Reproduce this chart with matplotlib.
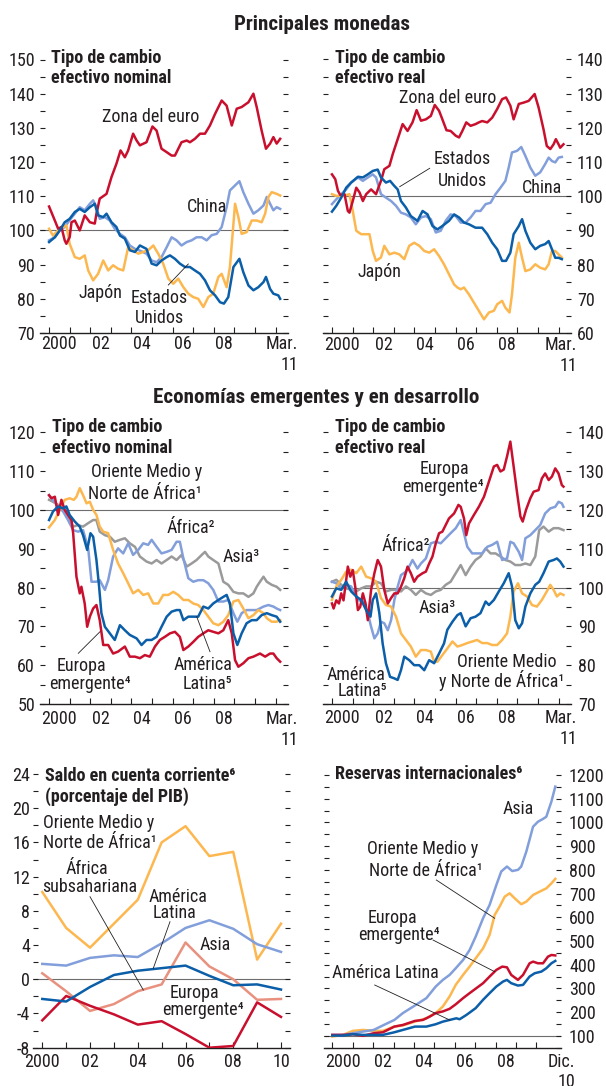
import matplotlib
matplotlib.use('Agg')
import matplotlib.pyplot as plt
from matplotlib.lines import Line2D
import matplotlib.transforms as mtransforms
from matplotlib import font_manager as fm

plt.rcParams['axes.unicode_minus'] = False

# pick the narrowest available sans family
_fonts = fm.fontManager.ttflist
_names = {f.name for f in _fonts}
if 'Liberation Sans Narrow' in _names:
    plt.rcParams['font.family'] = ['Liberation Sans Narrow', 'DejaVu Sans']
    SC = 1.0
elif 'Roboto Condensed' in _names:
    plt.rcParams['font.family'] = ['Roboto Condensed', 'DejaVu Sans']
    SC = 1.04
elif any(f.name == 'DejaVu Sans' and 'ondensed' in f.fname for f in _fonts):
    plt.rcParams['font.family'] = ['DejaVu Sans']
    plt.rcParams['font.stretch'] = 'condensed'
    SC = 0.88
else:
    plt.rcParams['font.family'] = ['Liberation Sans', 'DejaVu Sans']
    SC = 0.9

# ---------------- DATA ----------------
# Panel 1: nominal effective exchange rate, major currencies
EUR_NOM_T = [2000.00, 2000.28, 2000.44, 2000.60, 2000.76, 2000.84, 2001.00, 2001.09, 2001.25, 2001.49, 2001.73, 2001.98, 2002.22, 2002.30, 2002.46, 2002.79, 2003.03, 2003.27, 2003.47, 2003.68, 2003.84, 2004.08, 2004.25, 2004.41, 2004.73, 2005.02, 2005.22, 2005.46, 2005.71, 2005.95, 2006.11, 2006.43, 2006.68, 2006.84, 2007.08, 2007.33, 2007.57, 2007.81, 2008.06, 2008.38, 2008.62, 2008.87, 2009.11, 2009.35, 2009.68, 2009.92, 2010.08, 2010.32, 2010.53, 2010.73, 2010.89, 2011.05, 2011.22]
EUR_NOM_V = [107.0, 102.9, 100.5, 101.0, 97.1, 96.1, 98.0, 102.4, 102.9, 100.0, 104.4, 102.4, 102.0, 104.9, 109.3, 110.7, 115.6, 119.5, 123.4, 121.4, 123.4, 128.3, 126.3, 124.9, 125.8, 130.4, 129.2, 123.9, 122.9, 121.9, 121.9, 125.8, 126.3, 125.8, 126.8, 128.3, 128.3, 130.7, 134.1, 138.0, 136.5, 130.7, 135.6, 136.1, 137.5, 140.0, 136.1, 129.2, 123.9, 125.4, 127.3, 125.4, 126.8]
CHN_NOM_T = [2000.00, 2000.28, 2000.52, 2000.76, 2001.00, 2001.25, 2001.49, 2001.73, 2001.98, 2002.14, 2002.30, 2002.46, 2002.71, 2002.95, 2003.19, 2003.44, 2003.68, 2003.92, 2004.17, 2004.41, 2004.73, 2004.98, 2005.22, 2005.46, 2005.71, 2005.95, 2006.19, 2006.43, 2006.68, 2006.92, 2007.16, 2007.41, 2007.65, 2007.89, 2008.14, 2008.38, 2008.62, 2008.78, 2008.95, 2009.24, 2009.43, 2009.68, 2009.92, 2010.16, 2010.41, 2010.57, 2010.73, 2010.89, 2011.05, 2011.22]
CHN_NOM_V = [97.1, 98.0, 100.0, 101.0, 103.0, 104.9, 106.8, 105.9, 107.8, 108.8, 106.8, 103.4, 103.9, 102.9, 100.5, 99.0, 98.0, 95.6, 94.6, 94.1, 93.2, 91.2, 90.7, 92.2, 95.1, 98.0, 97.1, 95.6, 96.6, 97.1, 98.0, 98.0, 97.1, 98.6, 99.0, 101.0, 106.8, 111.7, 112.7, 114.4, 111.2, 107.8, 104.9, 105.9, 107.3, 109.8, 107.8, 105.9, 106.8, 106.3]
USA_NOM_T = [2000.00, 2000.28, 2000.52, 2000.76, 2001.00, 2001.25, 2001.49, 2001.73, 2001.98, 2002.22, 2002.38, 2002.63, 2002.79, 2003.03, 2003.27, 2003.44, 2003.68, 2003.92, 2004.17, 2004.41, 2004.73, 2004.98, 2005.22, 2005.46, 2005.71, 2005.87, 2006.11, 2006.35, 2006.60, 2006.84, 2007.08, 2007.33, 2007.57, 2007.81, 2008.06, 2008.30, 2008.49, 2008.70, 2008.95, 2009.24, 2009.43, 2009.68, 2009.92, 2010.16, 2010.41, 2010.53, 2010.73, 2010.89, 2011.13, 2011.22]
USA_NOM_V = [96.6, 98.0, 100.0, 102.4, 103.4, 105.4, 106.3, 105.4, 106.8, 107.8, 104.4, 103.9, 104.9, 102.4, 101.0, 98.5, 97.6, 94.2, 93.7, 95.6, 94.6, 90.3, 89.8, 91.2, 92.2, 92.7, 91.7, 90.3, 89.3, 89.3, 88.3, 87.3, 85.4, 82.5, 81.0, 79.0, 78.6, 80.5, 89.3, 91.7, 87.8, 83.9, 82.5, 83.4, 84.9, 86.4, 82.9, 81.5, 81.0, 80.0]
JPN_NOM_T = [2000.00, 2000.19, 2000.44, 2000.68, 2000.84, 2001.00, 2001.25, 2001.49, 2001.73, 2001.90, 2002.14, 2002.38, 2002.63, 2002.87, 2003.11, 2003.35, 2003.60, 2003.84, 2004.08, 2004.33, 2004.57, 2004.81, 2005.06, 2005.30, 2005.54, 2005.79, 2006.03, 2006.27, 2006.52, 2006.76, 2007.00, 2007.24, 2007.49, 2007.73, 2007.97, 2008.22, 2008.38, 2008.62, 2008.78, 2009.03, 2009.19, 2009.35, 2009.59, 2009.84, 2010.08, 2010.32, 2010.49, 2010.65, 2010.81, 2011.05, 2011.22]
JPN_NOM_V = [100.5, 98.5, 100.0, 101.0, 101.5, 96.1, 92.2, 91.7, 92.7, 88.3, 85.4, 87.3, 91.2, 88.3, 89.8, 88.8, 88.3, 95.1, 94.2, 93.2, 93.7, 94.2, 95.6, 93.2, 90.3, 85.9, 84.4, 85.9, 83.4, 81.5, 80.5, 80.0, 77.6, 80.5, 81.5, 86.4, 87.3, 83.4, 89.3, 107.8, 103.9, 99.0, 99.5, 102.9, 102.9, 102.4, 104.9, 109.8, 111.2, 110.7, 110.2]

# Panel 2: real effective exchange rate, major currencies
EUR_REAL_T = [2000.00, 2000.16, 2000.29, 2000.40, 2000.61, 2000.77, 2000.85, 2001.01, 2001.18, 2001.34, 2001.50, 2001.66, 2001.90, 2002.14, 2002.38, 2002.54, 2002.79, 2002.95, 2003.19, 2003.43, 2003.67, 2003.91, 2004.11, 2004.32, 2004.56, 2004.80, 2004.99, 2005.20, 2005.36, 2005.56, 2005.76, 2006.01, 2006.17, 2006.33, 2006.52, 2006.73, 2006.97, 2007.13, 2007.29, 2007.54, 2007.78, 2008.02, 2008.26, 2008.45, 2008.66, 2008.82, 2009.07, 2009.31, 2009.55, 2009.84, 2010.03, 2010.27, 2010.43, 2010.60, 2010.76, 2010.87, 2011.00, 2011.08, 2011.24]
EUR_REAL_V = [106.4, 105.0, 101.6, 100.4, 100.6, 95.7, 95.2, 98.6, 102.5, 101.1, 98.6, 100.6, 102.0, 100.6, 104.5, 107.9, 108.9, 112.3, 116.7, 121.1, 119.1, 121.6, 125.2, 122.1, 122.5, 123.5, 126.7, 125.0, 122.5, 119.3, 119.1, 117.7, 117.2, 119.1, 121.6, 120.6, 121.1, 121.6, 122.0, 121.6, 123.0, 125.5, 128.4, 128.9, 126.5, 122.5, 127.0, 127.4, 127.9, 129.9, 126.0, 119.6, 114.7, 113.8, 115.2, 116.7, 115.2, 114.2, 115.2]
CHN_REAL_T = [2000.00, 2000.21, 2000.45, 2000.69, 2000.93, 2001.26, 2001.50, 2001.74, 2001.98, 2002.14, 2002.38, 2002.62, 2002.87, 2003.11, 2003.35, 2003.59, 2003.83, 2004.07, 2004.32, 2004.56, 2004.80, 2005.04, 2005.28, 2005.52, 2005.76, 2006.01, 2006.25, 2006.49, 2006.73, 2006.97, 2007.21, 2007.46, 2007.70, 2007.94, 2008.18, 2008.42, 2008.58, 2008.74, 2008.99, 2009.19, 2009.39, 2009.63, 2009.87, 2010.11, 2010.35, 2010.52, 2010.68, 2010.84, 2011.00, 2011.16]
CHN_REAL_V = [97.7, 99.1, 100.6, 102.0, 104.0, 105.5, 104.5, 105.5, 106.4, 105.5, 100.6, 99.6, 98.6, 97.2, 95.2, 94.7, 93.8, 91.8, 93.8, 94.2, 93.3, 89.4, 89.9, 92.8, 94.7, 94.2, 92.3, 92.3, 93.8, 95.7, 95.7, 97.7, 98.1, 100.6, 102.5, 104.5, 108.4, 112.8, 113.3, 114.4, 111.8, 108.4, 106.0, 107.0, 109.4, 111.3, 110.3, 109.9, 111.3, 111.5]
USA_REAL_T = [2000.00, 2000.21, 2000.45, 2000.69, 2000.93, 2001.26, 2001.50, 2001.74, 2001.98, 2002.22, 2002.38, 2002.62, 2002.82, 2003.03, 2003.19, 2003.35, 2003.59, 2003.83, 2004.15, 2004.40, 2004.64, 2004.88, 2005.12, 2005.36, 2005.68, 2005.93, 2006.17, 2006.41, 2006.65, 2006.97, 2007.29, 2007.54, 2007.78, 2008.02, 2008.26, 2008.45, 2008.66, 2008.82, 2009.07, 2009.23, 2009.39, 2009.63, 2009.87, 2010.11, 2010.35, 2010.52, 2010.68, 2010.84, 2011.00, 2011.16]
USA_REAL_V = [95.5, 97.2, 99.6, 102.5, 104.0, 105.7, 105.5, 106.4, 107.4, 107.8, 105.5, 104.0, 104.5, 103.0, 102.0, 98.6, 96.7, 94.2, 92.8, 95.7, 94.7, 91.3, 90.3, 91.3, 92.8, 94.7, 93.8, 92.3, 91.8, 90.8, 90.8, 88.9, 86.4, 84.5, 81.1, 81.1, 83.5, 88.9, 91.3, 93.3, 89.9, 86.4, 84.5, 85.5, 86.0, 86.9, 84.5, 82.0, 82.0, 81.6]
JPN_REAL_T = [2000.00, 2000.21, 2000.53, 2000.85, 2001.01, 2001.18, 2001.42, 2001.66, 2001.82, 2001.98, 2002.14, 2002.38, 2002.54, 2002.79, 2003.03, 2003.27, 2003.51, 2003.75, 2003.99, 2004.24, 2004.48, 2004.72, 2004.96, 2005.20, 2005.44, 2005.68, 2005.93, 2006.09, 2006.25, 2006.41, 2006.65, 2006.89, 2007.13, 2007.38, 2007.62, 2007.86, 2008.02, 2008.26, 2008.42, 2008.62, 2008.74, 2008.90, 2009.07, 2009.23, 2009.39, 2009.63, 2009.87, 2010.11, 2010.35, 2010.52, 2010.68, 2010.84, 2011.00, 2011.16]
JPN_REAL_V = [100.6, 100.1, 100.1, 100.6, 95.7, 89.9, 88.9, 88.9, 88.9, 84.0, 81.1, 82.1, 85.5, 83.0, 83.5, 83.0, 81.6, 85.5, 86.4, 85.5, 84.0, 83.5, 84.5, 82.5, 80.1, 77.2, 74.2, 73.3, 72.8, 73.3, 71.3, 68.9, 66.5, 64.0, 66.0, 66.5, 68.4, 69.4, 67.4, 66.0, 71.3, 82.0, 86.4, 82.0, 78.1, 78.6, 80.1, 79.1, 78.6, 80.1, 84.0, 84.0, 83.0, 82.1]

# Panel 3: nominal effective exchange rate, emerging regions
MOA_NOM_T = [2000.00, 2000.28, 2000.52, 2000.76, 2001.00, 2001.20, 2001.33, 2001.49, 2001.65, 2001.82, 2001.98, 2002.14, 2002.30, 2002.46, 2002.63, 2002.87, 2003.11, 2003.35, 2003.60, 2003.84, 2004.08, 2004.33, 2004.57, 2004.81, 2005.06, 2005.30, 2005.54, 2005.79, 2006.03, 2006.27, 2006.52, 2006.76, 2007.00, 2007.24, 2007.49, 2007.73, 2007.97, 2008.22, 2008.46, 2008.70, 2008.95, 2009.19, 2009.43, 2009.68, 2009.92, 2010.16, 2010.41, 2010.57, 2010.81, 2011.05, 2011.22]
MOA_NOM_V = [95.5, 97.4, 100.0, 102.6, 103.0, 102.6, 103.4, 105.6, 103.8, 101.7, 102.1, 100.0, 98.7, 95.7, 94.4, 94.0, 89.7, 86.2, 83.7, 81.1, 78.5, 79.4, 78.1, 78.5, 75.9, 75.9, 78.1, 78.1, 78.9, 78.1, 76.8, 76.8, 75.9, 75.5, 74.2, 72.5, 70.8, 70.3, 71.2, 72.9, 76.4, 76.8, 74.6, 72.1, 72.9, 74.2, 73.4, 72.1, 71.2, 71.2, 71.6]
AFR_NOM_T = [2000.00, 2000.19, 2000.44, 2000.68, 2000.92, 2001.17, 2001.41, 2001.65, 2001.90, 2002.06, 2002.30, 2002.46, 2002.71, 2002.87, 2003.11, 2003.35, 2003.60, 2003.84, 2004.08, 2004.33, 2004.57, 2004.81, 2004.98, 2005.22, 2005.46, 2005.71, 2005.95, 2006.19, 2006.35, 2006.52, 2006.76, 2007.00, 2007.24, 2007.49, 2007.73, 2007.97, 2008.22, 2008.46, 2008.70, 2008.95, 2009.14, 2009.35, 2009.59, 2009.84, 2010.08, 2010.41, 2010.65, 2010.89, 2011.05, 2011.22]
AFR_NOM_V = [103.8, 102.6, 100.9, 99.6, 97.4, 94.8, 94.4, 94.8, 90.1, 81.5, 81.5, 81.9, 79.4, 81.9, 88.0, 90.1, 88.8, 91.4, 88.4, 89.7, 91.4, 91.0, 92.3, 90.5, 88.8, 89.2, 89.7, 91.8, 91.8, 87.5, 82.4, 81.5, 81.9, 81.9, 81.1, 79.4, 76.4, 76.4, 76.8, 73.4, 71.2, 73.4, 74.2, 74.2, 74.2, 75.1, 75.5, 75.1, 74.6, 74.2]
ASIA_NOM_T = [2000.00, 2000.19, 2000.44, 2000.68, 2000.92, 2001.17, 2001.41, 2001.65, 2001.90, 2002.14, 2002.30, 2002.46, 2002.71, 2002.95, 2003.19, 2003.44, 2003.68, 2003.92, 2004.17, 2004.41, 2004.73, 2004.98, 2005.22, 2005.46, 2005.71, 2005.95, 2006.19, 2006.43, 2006.68, 2006.92, 2007.16, 2007.41, 2007.57, 2007.73, 2007.97, 2008.22, 2008.46, 2008.70, 2008.95, 2009.19, 2009.43, 2009.68, 2009.92, 2010.08, 2010.24, 2010.41, 2010.57, 2010.81, 2011.05, 2011.22]
ASIA_NOM_V = [102.6, 102.1, 101.3, 100.0, 98.3, 95.7, 96.1, 95.7, 96.6, 97.4, 97.4, 94.4, 93.5, 93.1, 91.8, 92.3, 92.7, 91.4, 90.5, 88.0, 86.7, 86.2, 87.1, 86.2, 87.1, 88.0, 87.1, 88.4, 85.4, 86.2, 87.1, 88.4, 89.2, 88.0, 87.1, 86.2, 81.5, 80.7, 78.9, 78.5, 78.5, 77.6, 78.5, 80.2, 81.5, 82.8, 81.5, 80.7, 80.2, 79.4]
LAT_NOM_T = [2000.00, 2000.19, 2000.44, 2000.68, 2000.84, 2001.00, 2001.25, 2001.49, 2001.65, 2001.85, 2002.01, 2002.14, 2002.30, 2002.43, 2002.54, 2002.71, 2002.95, 2003.19, 2003.44, 2003.68, 2003.92, 2004.25, 2004.49, 2004.73, 2004.98, 2005.22, 2005.46, 2005.71, 2005.95, 2006.19, 2006.35, 2006.52, 2006.76, 2007.00, 2007.24, 2007.49, 2007.73, 2007.97, 2008.22, 2008.46, 2008.62, 2008.78, 2008.95, 2009.14, 2009.35, 2009.59, 2009.84, 2010.08, 2010.32, 2010.57, 2010.81, 2011.05, 2011.22]
LAT_NOM_V = [97.4, 99.6, 100.9, 100.4, 100.9, 98.7, 97.0, 95.7, 93.5, 89.7, 94.0, 93.1, 87.1, 80.2, 73.4, 69.9, 68.2, 66.5, 70.3, 69.0, 67.8, 66.9, 65.2, 66.5, 66.5, 67.3, 69.9, 72.5, 73.8, 74.2, 74.2, 71.6, 72.5, 72.5, 72.5, 75.1, 74.6, 75.9, 76.8, 77.6, 78.1, 75.9, 68.2, 65.2, 68.2, 70.8, 71.6, 71.6, 72.9, 73.4, 72.9, 72.5, 71.2]
EEM_NOM_T = [2000.00, 2000.11, 2000.28, 2000.44, 2000.60, 2000.76, 2000.92, 2001.09, 2001.17, 2001.33, 2001.49, 2001.57, 2001.73, 2001.85, 2001.98, 2002.14, 2002.30, 2002.46, 2002.63, 2002.87, 2003.11, 2003.35, 2003.68, 2003.92, 2004.17, 2004.41, 2004.65, 2004.89, 2005.14, 2005.38, 2005.62, 2005.87, 2006.11, 2006.35, 2006.52, 2006.76, 2007.00, 2007.24, 2007.49, 2007.73, 2007.97, 2008.22, 2008.46, 2008.70, 2008.87, 2009.03, 2009.19, 2009.43, 2009.68, 2009.92, 2010.24, 2010.49, 2010.73, 2010.89, 2011.05, 2011.22]
EEM_NOM_V = [103.8, 103.0, 103.4, 98.7, 102.6, 100.0, 98.7, 97.4, 94.0, 82.8, 78.5, 80.2, 75.9, 69.9, 72.5, 74.6, 75.5, 71.6, 65.2, 65.2, 63.0, 63.5, 64.8, 62.2, 62.2, 61.8, 62.6, 62.2, 64.8, 66.5, 67.3, 68.2, 68.6, 67.3, 63.9, 64.8, 66.0, 67.3, 68.2, 69.0, 68.6, 68.2, 69.0, 71.6, 68.2, 61.3, 59.6, 60.5, 61.8, 62.2, 63.0, 62.2, 63.0, 63.0, 61.8, 60.9]

# Panel 4: real effective exchange rate, emerging regions
EEM_REAL_T = [2000.00, 2000.08, 2000.21, 2000.34, 2000.45, 2000.56, 2000.69, 2000.77, 2000.89, 2001.01, 2001.13, 2001.26, 2001.37, 2001.50, 2001.63, 2001.74, 2001.90, 2002.06, 2002.22, 2002.38, 2002.54, 2002.71, 2002.87, 2003.03, 2003.19, 2003.35, 2003.51, 2003.67, 2003.83, 2003.99, 2004.15, 2004.40, 2004.56, 2004.72, 2004.88, 2005.04, 2005.20, 2005.36, 2005.52, 2005.68, 2005.93, 2006.14, 2006.25, 2006.41, 2006.52, 2006.65, 2006.89, 2007.13, 2007.38, 2007.54, 2007.70, 2007.86, 2008.02, 2008.18, 2008.34, 2008.50, 2008.66, 2008.82, 2008.99, 2009.15, 2009.26, 2009.42, 2009.63, 2009.79, 2010.03, 2010.19, 2010.35, 2010.52, 2010.68, 2010.84, 2011.00, 2011.16, 2011.24]
EEM_REAL_V = [95.9, 94.6, 96.7, 95.9, 98.5, 96.7, 101.9, 105.4, 102.8, 104.5, 100.2, 94.2, 95.0, 98.5, 95.9, 91.6, 99.4, 103.7, 107.1, 105.4, 99.4, 95.9, 97.3, 98.5, 98.5, 100.2, 102.4, 105.4, 103.7, 101.5, 102.8, 103.7, 104.1, 106.2, 108.0, 111.4, 114.0, 114.4, 116.1, 117.8, 119.1, 121.3, 120.8, 117.8, 113.5, 116.5, 118.7, 120.8, 123.4, 126.0, 128.6, 131.2, 131.6, 129.9, 130.4, 133.8, 137.6, 131.2, 124.3, 118.3, 117.0, 120.0, 123.0, 124.7, 125.1, 128.1, 129.4, 127.7, 128.6, 130.7, 129.4, 126.4, 126.0]
AFR_REAL_T = [2000.00, 2000.21, 2000.45, 2000.69, 2000.93, 2001.10, 2001.26, 2001.50, 2001.74, 2001.90, 2002.06, 2002.22, 2002.38, 2002.54, 2002.71, 2002.87, 2003.03, 2003.19, 2003.35, 2003.59, 2003.75, 2003.91, 2004.15, 2004.32, 2004.56, 2004.80, 2005.04, 2005.28, 2005.52, 2005.76, 2006.01, 2006.25, 2006.41, 2006.57, 2006.81, 2007.05, 2007.29, 2007.54, 2007.78, 2008.02, 2008.26, 2008.50, 2008.66, 2008.82, 2009.07, 2009.23, 2009.39, 2009.63, 2009.87, 2010.11, 2010.35, 2010.60, 2010.84, 2011.00, 2011.16, 2011.24]
AFR_REAL_V = [101.5, 101.1, 99.8, 100.7, 100.3, 98.5, 96.8, 96.4, 93.4, 89.9, 86.9, 88.2, 91.2, 90.8, 89.0, 91.6, 96.8, 100.2, 103.2, 104.1, 105.4, 107.1, 104.9, 106.2, 107.5, 111.4, 111.8, 111.4, 112.7, 114.0, 115.3, 117.4, 114.0, 110.5, 108.8, 108.8, 108.8, 110.5, 111.0, 111.8, 107.1, 107.5, 111.8, 111.4, 109.2, 107.1, 112.7, 113.5, 114.8, 116.1, 119.1, 120.4, 120.8, 122.1, 121.7, 120.8]
ASIA_REAL_T = [2000.00, 2000.21, 2000.45, 2000.69, 2000.93, 2001.18, 2001.42, 2001.66, 2001.90, 2002.14, 2002.38, 2002.62, 2002.87, 2003.11, 2003.35, 2003.59, 2003.83, 2004.07, 2004.32, 2004.56, 2004.80, 2005.04, 2005.28, 2005.52, 2005.76, 2006.01, 2006.25, 2006.49, 2006.73, 2006.97, 2007.21, 2007.46, 2007.70, 2007.94, 2008.18, 2008.42, 2008.66, 2008.90, 2009.15, 2009.39, 2009.63, 2009.87, 2010.06, 2010.27, 2010.52, 2010.76, 2011.00, 2011.24]
ASIA_REAL_V = [101.5, 102.0, 100.7, 99.8, 99.4, 99.0, 99.8, 100.3, 100.3, 101.5, 101.1, 99.0, 99.4, 99.4, 99.0, 100.3, 99.4, 98.1, 99.4, 98.5, 98.1, 99.0, 99.4, 100.7, 101.5, 103.7, 105.8, 103.2, 105.4, 107.1, 108.0, 110.1, 108.8, 108.8, 108.0, 107.1, 106.7, 105.8, 105.8, 106.2, 105.8, 108.0, 114.8, 115.7, 114.4, 115.3, 115.3, 114.8]
LAT_REAL_T = [2000.00, 2000.21, 2000.45, 2000.69, 2000.93, 2001.18, 2001.42, 2001.66, 2001.87, 2001.98, 2002.14, 2002.30, 2002.46, 2002.62, 2002.82, 2003.03, 2003.19, 2003.35, 2003.51, 2003.75, 2003.99, 2004.24, 2004.48, 2004.72, 2004.96, 2005.20, 2005.44, 2005.60, 2005.85, 2006.09, 2006.25, 2006.49, 2006.73, 2006.97, 2007.21, 2007.46, 2007.62, 2007.86, 2008.10, 2008.34, 2008.58, 2008.74, 2008.90, 2009.07, 2009.23, 2009.39, 2009.63, 2009.87, 2010.06, 2010.27, 2010.52, 2010.76, 2010.92, 2011.08, 2011.24]
LAT_REAL_V = [97.7, 99.8, 99.4, 101.5, 99.0, 97.7, 96.8, 94.2, 92.5, 96.8, 98.5, 93.4, 85.6, 80.5, 77.0, 76.6, 76.2, 78.7, 82.2, 81.3, 80.0, 80.0, 78.7, 81.3, 80.5, 83.0, 85.6, 89.1, 91.2, 92.9, 93.4, 90.0, 92.1, 92.5, 93.4, 96.4, 95.5, 96.8, 99.0, 101.1, 103.7, 100.3, 91.6, 89.5, 90.8, 95.1, 98.5, 100.7, 101.5, 103.7, 106.7, 107.1, 107.5, 106.7, 105.4]
MOA_REAL_T = [2000.00, 2000.21, 2000.45, 2000.69, 2000.93, 2001.18, 2001.42, 2001.66, 2001.90, 2002.14, 2002.38, 2002.62, 2002.87, 2003.11, 2003.35, 2003.59, 2003.83, 2004.07, 2004.32, 2004.56, 2004.80, 2004.96, 2005.12, 2005.36, 2005.60, 2005.85, 2006.09, 2006.33, 2006.57, 2006.81, 2007.05, 2007.29, 2007.54, 2007.78, 2008.02, 2008.26, 2008.50, 2008.66, 2008.82, 2009.03, 2009.23, 2009.47, 2009.71, 2009.95, 2010.19, 2010.43, 2010.60, 2010.76, 2010.92, 2011.08, 2011.24]
MOA_REAL_V = [96.8, 100.3, 102.0, 104.1, 104.6, 103.7, 105.4, 102.8, 102.4, 101.5, 97.3, 95.5, 95.1, 92.5, 88.2, 86.5, 84.8, 82.2, 83.9, 83.9, 83.5, 80.9, 80.9, 82.6, 84.3, 86.1, 84.8, 85.2, 85.7, 86.1, 86.5, 85.7, 85.7, 85.2, 85.2, 86.5, 88.2, 92.5, 99.0, 101.1, 98.5, 97.7, 95.5, 95.1, 96.8, 99.0, 100.7, 99.4, 97.7, 98.5, 98.1]

# Panel 5: current account balance (% of GDP), annual
CA_YEARS = [2000, 2001, 2002, 2003, 2004, 2005, 2006, 2007, 2008, 2009, 2010]
CA_MOA = [10.2, 6.0, 3.7, 6.5, 9.3, 16.0, 17.9, 14.4, 14.9, 2.3, 6.5]
CA_ASIA = [1.8, 1.6, 2.5, 2.8, 2.6, 4.2, 6.0, 6.9, 5.9, 4.1, 3.2]
CA_LAT = [-2.3, -2.6, -0.9, 0.5, 1.0, 1.3, 1.6, 0.4, -0.7, -0.6, -1.2]
CA_SSA = [0.7, -1.4, -3.7, -2.9, -1.4, -0.6, 4.3, 1.5, 0.0, -2.4, -2.3]
CA_EEM = [-4.8, -1.95, -3.1, -4.1, -5.3, -4.9, -6.4, -8.0, -7.8, -2.7, -4.4]

# Panel 6: international reserves (index)
RES_ASIA_T = [2000.00, 2000.52, 2001.01, 2001.50, 2002.03, 2002.48, 2003.04, 2003.46, 2004.05, 2004.61, 2005.07, 2005.42, 2005.75, 2006.05, 2006.41, 2006.73, 2007.03, 2007.39, 2007.71, 2008.04, 2008.28, 2008.56, 2008.82, 2009.10, 2009.26, 2009.51, 2009.84, 2010.08, 2010.33, 2010.49, 2010.74, 2010.93]
RES_ASIA_V = [104, 104, 111, 118, 125, 144, 167, 196, 228, 259, 308, 336, 357, 385, 420, 462, 519, 596, 652, 736, 793, 814, 795, 800, 814, 877, 982, 1003, 1015, 1024, 1088, 1151]
RES_MOA_T = [2000.00, 2000.52, 2001.01, 2001.50, 2002.03, 2002.48, 2003.04, 2003.46, 2004.05, 2004.61, 2005.07, 2005.42, 2005.75, 2006.05, 2006.41, 2006.73, 2007.03, 2007.39, 2007.71, 2007.96, 2008.20, 2008.45, 2008.69, 2008.94, 2009.26, 2009.51, 2009.84, 2010.16, 2010.49, 2010.74, 2010.93]
RES_MOA_V = [97, 104, 121, 125, 121, 121, 139, 144, 160, 174, 196, 224, 266, 315, 357, 392, 427, 469, 526, 610, 645, 687, 701, 680, 655, 666, 694, 708, 722, 743, 762]
RES_EEM_T = [2000.00, 2000.52, 2001.01, 2001.50, 2002.03, 2002.48, 2003.04, 2003.46, 2004.05, 2004.44, 2004.77, 2005.07, 2005.42, 2005.75, 2006.05, 2006.41, 2006.73, 2007.06, 2007.39, 2007.71, 2008.04, 2008.33, 2008.56, 2008.77, 2009.10, 2009.35, 2009.67, 2009.84, 2010.08, 2010.33, 2010.57, 2010.74, 2010.93]
RES_EEM_V = [104, 104, 107, 100, 111, 115, 139, 146, 163, 167, 181, 196, 203, 214, 233, 259, 280, 301, 322, 350, 378, 392, 389, 357, 336, 357, 406, 413, 406, 406, 434, 441, 439]
RES_LAT_T = [2000.00, 2000.52, 2001.01, 2001.50, 2002.03, 2002.48, 2003.04, 2003.46, 2004.05, 2004.61, 2005.07, 2005.42, 2005.75, 2006.08, 2006.24, 2006.57, 2006.81, 2007.03, 2007.39, 2007.71, 2008.04, 2008.37, 2008.56, 2008.77, 2009.10, 2009.35, 2009.67, 2009.92, 2010.25, 2010.49, 2010.74, 2010.93]
RES_LAT_V = [101, 101, 107, 104, 104, 104, 115, 125, 139, 139, 149, 160, 167, 174, 170, 188, 203, 217, 252, 280, 308, 329, 336, 322, 312, 315, 350, 364, 371, 385, 406, 416]

# Tick labels
X_LABELS_M = ['2000', '02', '04', '06', '08']
X_LABELS_A = ['2000', '02', '04', '06', '08', '10']

# ---------------- STYLE ----------------
RED = '#c8102e'
DBLUE = '#0b5ea8'
LBLUE = '#829fdb'
YELLOW = '#fdb74f'
GRAY = '#9a9a9a'
SALMON = '#e8917f'
TXT = '#231f20'
REF = '#6d6d6d'
LW = 1.8
FS = 12.5 * SC
FS_T = 14.5 * SC

W, H = 606, 1086
fig = plt.figure(figsize=(W / 100, H / 100), dpi=100)
fig.patch.set_facecolor('white')


def add_ax(left, top, right, bottom):
    ax = fig.add_axes([left / W, 1 - bottom / H, (right - left) / W, (bottom - top) / H])
    ax.patch.set_alpha(0)
    return ax


def style(ax, xlim, ylim, ymaj, ymin, side, xticks, pad):
    ax.set_xlim(*xlim)
    ax.set_ylim(*ylim)
    for s in ['top', 'left', 'right']:
        ax.spines[s].set_visible(False)
    ax.spines['bottom'].set_color(TXT)
    ax.spines['bottom'].set_linewidth(1.0)
    ax.set_yticks(ymaj)
    ax.set_yticks(ymin, minor=True)
    ax.set_yticklabels([str(v) for v in ymaj])
    ax.tick_params(axis='y', which='both', direction='in', left=True, right=True,
                   length=3.3, width=0.8, color=TXT, labelsize=FS, labelcolor=TXT,
                   labelleft=(side == 'left'), labelright=(side == 'right'), pad=pad)
    ax.set_xticks(xticks)
    ax.tick_params(axis='x', which='both', direction='in', bottom=True, top=False,
                   length=4.0, width=0.8, color=TXT, labelbottom=False)


def ftext(x, y, s, ha='center', bold=False, size=None):
    fig.text(x / W, 1 - y / H, s, ha=ha, va='baseline', fontsize=size or FS, color=TXT,
             fontweight='bold' if bold else 'normal')


def leader(x1, y1, x2, y2):
    fig.add_artist(Line2D([x1 / W, x2 / W], [1 - y1 / H, 1 - y2 / H],
                          transform=fig.transFigure, lw=0.6, color=TXT))


def xlab(ax, x, ypx, s, ha='center'):
    tr = mtransforms.blended_transform_factory(ax.transData, fig.transFigure)
    ax.text(x, 1 - ypx / H, s, transform=tr, ha=ha, va='baseline', fontsize=FS,
            color=TXT, clip_on=False)


YEAR_TICKS = list(range(2000, 2012))
XL_M = (1999.56, 2011.6)

# ---------------- PANEL 1 ----------------
ax1 = add_ax(40, 59.5, 288, 333)
style(ax1, XL_M, (70, 150), list(range(70, 151, 10)), list(range(75, 150, 10)), 'left', YEAR_TICKS, 3.6)
ax1.axhline(100, color=REF, lw=0.8, zorder=1)
ax1.plot(CHN_NOM_T, CHN_NOM_V, color=LBLUE, lw=LW, zorder=2)
ax1.plot(JPN_NOM_T, JPN_NOM_V, color=YELLOW, lw=LW, zorder=3)
ax1.plot(EUR_NOM_T, EUR_NOM_V, color=RED, lw=LW, zorder=4)
ax1.plot(USA_NOM_T, USA_NOM_V, color=DBLUE, lw=LW, zorder=5)
for i, s in enumerate(X_LABELS_M):
    xlab(ax1, 2000.5 + 2 * i, 349.5, s)
xlab(ax1, 2012.1, 349.5, 'Mar.', ha='right')
xlab(ax1, 2012.1, 370.5, '11', ha='right')
ftext(51, 62.7, 'Tipo de cambio', ha='left', bold=True)
ftext(51, 83.3, 'efectivo nominal', ha='left', bold=True)
ftext(150.5, 121.7, 'Zona del euro')
ftext(206.7, 211.7, 'China')
ftext(100.8, 298.3, 'Japón')
ftext(159, 303.3, 'Estados')
ftext(159, 323.3, 'Unidos')
leader(168.3, 285, 188.3, 264)

# ---------------- PANEL 2 ----------------
ax2 = add_ax(322.9, 59.5, 570.9, 333)
style(ax2, XL_M, (60, 140), list(range(60, 141, 10)), list(range(65, 140, 10)), 'right', YEAR_TICKS, 4.3)
ax2.axhline(100, color=REF, lw=0.8, zorder=1)
ax2.plot(CHN_REAL_T, CHN_REAL_V, color=LBLUE, lw=LW, zorder=2)
ax2.plot(JPN_REAL_T, JPN_REAL_V, color=YELLOW, lw=LW, zorder=3)
ax2.plot(EUR_REAL_T, EUR_REAL_V, color=RED, lw=LW, zorder=4)
ax2.plot(USA_REAL_T, USA_REAL_V, color=DBLUE, lw=LW, zorder=5)
for i, s in enumerate(X_LABELS_M):
    xlab(ax2, 2000.5 + 2 * i, 350, s)
xlab(ax2, 2011.9, 350, 'Mar.', ha='right')
xlab(ax2, 2011.9, 371, '11', ha='right')
ftext(335.3, 62.7, 'Tipo de cambio', ha='left', bold=True)
ftext(335.3, 83.3, 'efectivo real', ha='left', bold=True)
ftext(447.2, 103.3, 'Zona del euro')
ftext(462, 164, 'Estados')
ftext(462, 185.5, 'Unidos')
leader(429.7, 168.3, 399.7, 186.7)
ftext(542, 193.3, 'China')
ftext(379.7, 276.7, 'Japón')

# ---------------- PANEL 3 ----------------
ax3 = add_ax(40, 432.3, 288, 704)
style(ax3, XL_M, (50, 120), list(range(50, 121, 10)), list(range(55, 120, 10)), 'left', YEAR_TICKS, 3.6)
ax3.axhline(100, color=REF, lw=0.8, zorder=1)
ax3.plot(ASIA_NOM_T, ASIA_NOM_V, color=GRAY, lw=LW, zorder=2)
ax3.plot(AFR_NOM_T, AFR_NOM_V, color=LBLUE, lw=LW, zorder=3)
ax3.plot(MOA_NOM_T, MOA_NOM_V, color=YELLOW, lw=LW, zorder=4)
ax3.plot(EEM_NOM_T, EEM_NOM_V, color=RED, lw=LW, zorder=5)
ax3.plot(LAT_NOM_T, LAT_NOM_V, color=DBLUE, lw=LW, zorder=6)
for i, s in enumerate(X_LABELS_M):
    xlab(ax3, 2000.5 + 2 * i, 724, s)
xlab(ax3, 2012.1, 724, 'Mar.', ha='right')
xlab(ax3, 2012.1, 745, '11', ha='right')
ftext(52, 431.7, 'Tipo de cambio', ha='left', bold=True)
ftext(52, 453, 'efectivo nominal', ha='left', bold=True)
ftext(146.7, 476.7, 'Oriente Medio y')
ftext(145, 499, 'Norte de África¹')
ftext(190.8, 532.7, 'África²')
ftext(240.8, 561.7, 'Asia³')
ftext(81, 670.7, 'Europa')
ftext(90, 689.3, 'emergente⁴')
leader(78.3, 653.3, 100, 631.7)
ftext(203.3, 670, 'América')
ftext(207, 689.3, 'Latina⁵')
leader(210, 651.7, 196.7, 616.7)

# ---------------- PANEL 4 ----------------
ax4 = add_ax(322.9, 432.3, 570.9, 704)
style(ax4, XL_M, (70, 140), list(range(70, 141, 10)), list(range(75, 140, 10)), 'right', YEAR_TICKS, 5.0)
ax4.axhline(100, color=REF, lw=0.8, zorder=1)
ax4.plot(ASIA_REAL_T, ASIA_REAL_V, color=GRAY, lw=LW, zorder=2)
ax4.plot(AFR_REAL_T, AFR_REAL_V, color=LBLUE, lw=LW, zorder=3)
ax4.plot(MOA_REAL_T, MOA_REAL_V, color=YELLOW, lw=LW, zorder=4)
ax4.plot(EEM_REAL_T, EEM_REAL_V, color=RED, lw=LW, zorder=5)
ax4.plot(LAT_REAL_T, LAT_REAL_V, color=DBLUE, lw=LW, zorder=6)
for i, s in enumerate(X_LABELS_M):
    xlab(ax4, 2000.5 + 2 * i, 723.3, s)
xlab(ax4, 2011.9, 723.3, 'Mar.', ha='right')
xlab(ax4, 2011.9, 744.3, '11', ha='right')
ftext(335.3, 431.7, 'Tipo de cambio', ha='left', bold=True)
ftext(335.3, 453, 'efectivo real', ha='left', bold=True)
ftext(444, 474, 'Europa')
ftext(443, 491.7, 'emergente⁴')
ftext(406.3, 550.7, 'África²')
ftext(436.8, 613.3, 'Asia³')
ftext(356.3, 680, 'América')
ftext(362, 696, 'Latina⁵')
ftext(507, 667.3, 'Oriente Medio')
ftext(502, 687.3, 'y Norte de África¹')

# ---------------- PANEL 5 ----------------
ax5 = add_ax(33.3, 774, 290, 1047.7)
style(ax5, (1999.623, 2010.377), (-8, 24), list(range(-8, 25, 4)), list(range(-6, 24, 4)), 'left', CA_YEARS, 2.4)
ax5.axhline(0, color=REF, lw=0.8, zorder=1)
ax5.plot(CA_YEARS, CA_MOA, color=YELLOW, lw=LW, zorder=2)
ax5.plot(CA_YEARS, CA_ASIA, color=LBLUE, lw=LW, zorder=3)
ax5.plot(CA_YEARS, CA_SSA, color=SALMON, lw=LW, zorder=4)
ax5.plot(CA_YEARS, CA_EEM, color=RED, lw=LW, zorder=5)
ax5.plot(CA_YEARS, CA_LAT, color=DBLUE, lw=LW, zorder=6)
for i, s in enumerate(X_LABELS_A):
    xlab(ax5, 2000 + 2 * i, 1066.7, s)
ftext(45, 781, 'Saldo en cuenta corriente⁶', ha='left', bold=True)
ftext(45, 801.7, '(porcentaje del PIB)', ha='left', bold=True)
ftext(43.3, 827.7, 'Oriente Medio y', ha='left')
ftext(43.3, 848.3, 'Norte de África¹', ha='left')
ftext(86.7, 874.3, 'África')
ftext(90, 891.7, 'subsahariana')
leader(90, 896.7, 143.3, 990)
ftext(178.3, 901.7, 'América')
ftext(174, 918.3, 'Latina')
leader(170, 921.7, 153.3, 968.3)
ftext(215, 950, 'Asia')
ftext(194, 997.7, 'Europa')
ftext(203, 1015, 'emergente⁴')

# ---------------- PANEL 6 ----------------
ax6 = add_ax(323.7, 775, 561, 1047.7)
style(ax6, (1999.578, 2011.21), (50, 1200), list(range(100, 1201, 100)), list(range(50, 1200, 100)), 'right', list(range(2000, 2011)), 5.8)
ax6.axhline(100, color=REF, lw=0.8, zorder=1)
ax6.plot(RES_MOA_T, RES_MOA_V, color=YELLOW, lw=LW, zorder=2)
ax6.plot(RES_ASIA_T, RES_ASIA_V, color=LBLUE, lw=LW, zorder=3)
ax6.plot(RES_EEM_T, RES_EEM_V, color=RED, lw=LW, zorder=4)
ax6.plot(RES_LAT_T, RES_LAT_V, color=DBLUE, lw=LW, zorder=5)
for i, s in enumerate(X_LABELS_M):
    xlab(ax6, 2000.5 + 2 * i, 1066.7, s)
xlab(ax6, 2011.9, 1066.7, 'Dic.', ha='right')
xlab(ax6, 2011.9, 1087, '10', ha='right')
ftext(335.3, 779, 'Reservas internacionales⁶', ha='left', bold=True)
ftext(518, 814.3, 'Asia')
ftext(423, 854, 'Oriente Medio y')
ftext(426.3, 875.7, 'Norte de África¹')
leader(436.3, 880, 494.7, 918.3)
ftext(392, 923.3, 'Europa')
ftext(398.8, 940, 'emergente⁴')
leader(433, 940, 494.7, 971.7)
ftext(385.5, 977.7, 'América Latina')
leader(374.7, 985, 449.7, 1020)

# ---------------- SECTION TITLES ----------------
ftext(321.5, 30, 'Principales monedas', bold=True, size=FS_T)
ftext(316, 403.3, 'Economías emergentes y en desarrollo', bold=True, size=FS_T)

fig.savefig('out.png', dpi=100, facecolor='white')
